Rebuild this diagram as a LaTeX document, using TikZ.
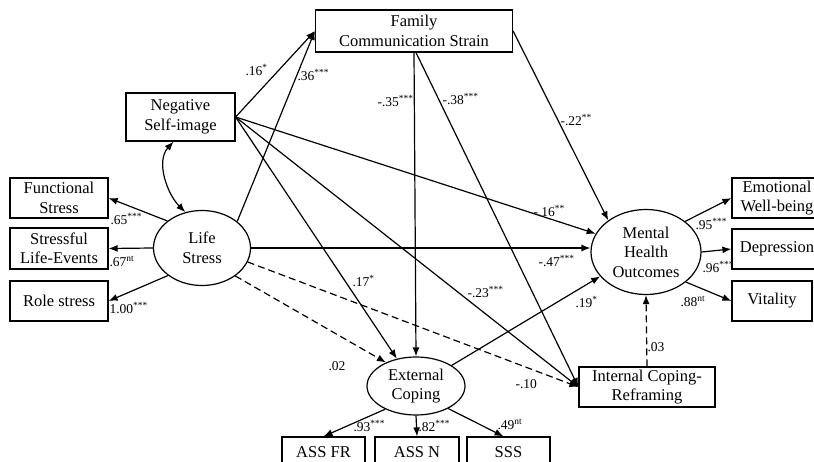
\documentclass[tikz,border=0pt]{standalone}
\usepackage{fontspec}
\setmainfont{Liberation Serif}
\usetikzlibrary{arrows.meta,shapes.geometric}
\newcommand\boxfont{\fontsize{16.5}{19.5}\selectfont}
\newcommand\labfont{\fontsize{13.5}{15}\selectfont}
\newcommand\sg[1]{\textsuperscript{#1}}
\begin{document}
\begin{tikzpicture}[x=1pt,y=-1pt,line width=1.2pt,
  box/.style={draw,rectangle,inner sep=0pt,align=center,font=\boxfont},
  lat/.style={draw,ellipse,inner sep=0pt,align=center,font=\boxfont},
  arr/.style={-{Latex[length=9pt,width=7pt]}},
  arrboth/.style={{Latex[length=9pt,width=7pt]}-{Latex[length=9pt,width=7pt]}},
  dsh/.style={arr,dash pattern=on 7pt off 4pt},
  lab/.style={anchor=base west,yshift=-4.5pt,inner sep=0pt,font=\labfont}]
\useasboundingbox (0,0) rectangle (814,462);
\fill[white] (0,0) rectangle (814,462);
% nodes
\node[box,minimum width=197pt,minimum height=42pt] (fcs) at (414,31) {Family\\Communication Strain};
\node[box,minimum width=109pt,minimum height=48pt] (nsi) at (180.5,117) {Negative\\Self-image};
\node[box,minimum width=98pt,minimum height=40pt] (fs) at (59,198) {Functional\\Stress};
\node[box,minimum width=98pt,minimum height=41pt] (sle) at (59,248.5) {Stressful\\Life-Events};
\node[box,minimum width=98pt,minimum height=40pt] (rs) at (59,301) {Role stress};
\node[lat,minimum width=97pt,minimum height=75pt] (ls) at (202,248) {Life\\Stress};
\node[lat,minimum width=110pt,minimum height=85pt] (mho) at (646,252) {Mental\\Health\\Outcomes};
\node[box,minimum width=90pt,minimum height=40pt] (ewb) at (777,198) {Emotional\\Well-being};
\node[box,minimum width=90pt,minimum height=40pt] (dep) at (777,249) {Depression};
\node[box,minimum width=80pt,minimum height=40pt] (vit) at (772,301) {Vitality};
\node[box,minimum width=136pt,minimum height=40pt] (ic) at (647,387) {Internal Coping-\\Reframing};
\node[lat,minimum width=98pt,minimum height=58pt] (ec) at (416,386) {External\\Coping};
\node[box,minimum width=83pt,minimum height=30pt] (afr) at (323.5,452) {ASS FR};
\node[box,minimum width=84pt,minimum height=30pt] (asn) at (417,452) {ASS N};
\node[box,minimum width=83pt,minimum height=30pt] (sss) at (508.5,452) {SSS};
% connectors
\draw[arr] (nsi.east) -- (fcs.west);
\draw[arr] (ls.37) -- (fcs.west);
\draw[arrboth] ([xshift=-7pt]nsi.south) .. controls +(-18,20) and +(-18,-18) .. (ls.115);
\draw[arr] (ls.142) -- (fs.east);
\draw[arr] (ls.west) -- (sle.east);
\draw[arr] (ls.219) -- (rs.east);
\draw[arr] (ls.east) -- (mho.west |- ls.east);
\draw[arr] (nsi.east) -- (mho.160);
\draw[arr] (nsi.east) -- (ec.125);
\draw[arr] (nsi.east) -- (ic.west);
\draw[arr] (fcs.south) -- (ec.north);
\draw[arr] ([xshift=2pt]fcs.south) -- (ic.west);
\draw[arr] (fcs.east) -- (mho.140);
\draw[arr] (ec.30) -- (mho.208);
\draw[dsh] (ls.320) -- (ec.142);
\draw[dsh] (ls.343) -- (ic.west);
\draw[dsh] (ic.north) -- (mho.south);
\draw[arr] (mho.38) -- (ewb.west);
\draw[arr] (mho.east) -- (dep.west);
\draw[arr] (mho.323) -- (vit.west);
\draw[arr] (ec.217) -- (afr.north);
\draw[arr] (ec.south) -- (asn.north);
\draw[arr] (ec.325) -- ([xshift=-5pt]sss.north);
% labels
\node[lab] (l1) at (245,71) {.16\sg{*}};
\node[lab] (l2) at (297,76) {.36\sg{***}};
\node[lab] (l3) at (377,102) {-.35\sg{***}};
\node[lab] (l4) at (442,100) {-.38\sg{***}};
\node[lab] (l5) at (560,121) {-.22\sg{**}};
\node[lab] (l6) at (533,212) {-.16\sg{**}};
\node[lab] (l7) at (110,220) {.65\sg{***}};
\node[lab] (l8) at (109,262) {.67\sg{nt}};
\node[lab] (l9) at (109,309) {1.00\sg{***}};
\node[lab] (l10) at (352,282) {.17\sg{*}};
\node[lab] (l11) at (538,262) {-.47\sg{***}};
\node[lab] (l12) at (467,293) {-.23\sg{***}};
\node[lab] (l13) at (575,303) {.19\sg{*}};
\node[lab] (l14) at (328,366) {.02};
\node[lab] (l15) at (515,384) {-.10};
\node[lab] (l16) at (647,347) {.03};
\node[lab] (l17) at (695,225) {.95\sg{***}};
\node[lab] (l18) at (702,268) {.96\sg{***}};
\node[lab] (l19) at (680,302) {.88\sg{nt}};
\node[lab] (l20) at (353,427) {.93\sg{***}};
\node[lab] (l21) at (418,427) {.82\sg{***}};
\node[lab] (l22) at (497,425) {.49\sg{nt}};
\end{tikzpicture}
\end{document}
